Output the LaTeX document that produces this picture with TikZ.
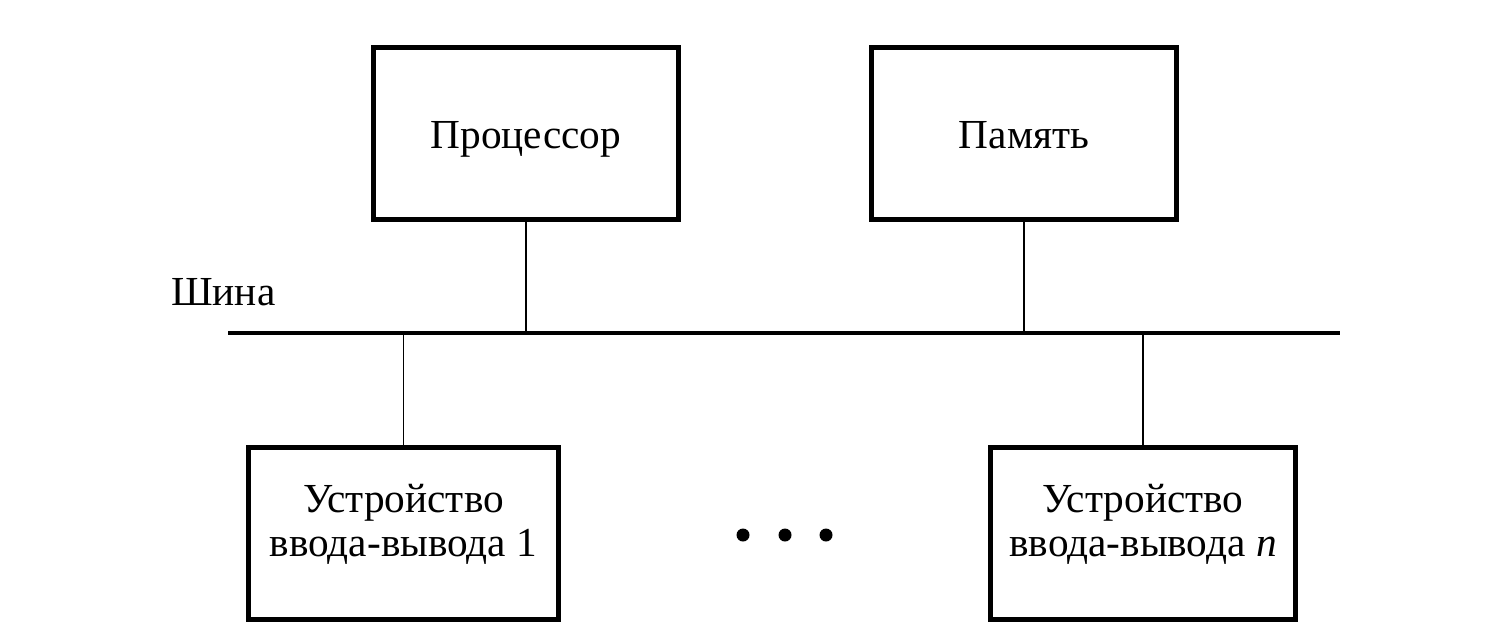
\documentclass[tikz,border=0pt]{standalone}
\usepackage{fontspec}
\setmainfont{Liberation Serif}
\newcommand{\blockfont}{\fontsize{23.5pt}{25pt}\selectfont}
\begin{document}
\begin{tikzpicture}[x=0.02cm,y=-0.02cm,
	unit/.style={draw, line width=2.8pt, minimum width=6.1cm, minimum height=3.45cm, align=center, font=\blockfont},
	oneline/.style={text height=21.6pt, text depth=4.6pt},
	twoline/.style={text depth=15pt},
	link/.style={line width=1.1pt},
	bus/.style={line width=2.8pt}]
	\useasboundingbox (0,0) rectangle (1503,640);
	\node[unit, oneline] (proc) at (526,133.5) {Процессор};
	\node[unit, oneline] (mem) at (1024,133.5) {Память};
	\node[unit, twoline, minimum width=6.2cm] (io1) at (403.5,533.5) {Устройство\\ввода-вывода 1};
	\node[unit, twoline] (ion) at (1143,533.5) {Устройство\\ввода-вывода \textit{n}};
	\coordinate (busL) at (228,333);
	\coordinate (busR) at (1340,333);
	\draw[bus] (busL) -- (busR);
	\node[anchor=base west, font=\blockfont] (businfo) at (165,305) {Шина};
	\draw[link] (proc.south) -- (proc.south |- busL);
	\draw[link] (mem.south) -- (mem.south |- busL);
	\draw[link] (io1.north) -- (io1.north |- busL);
	\draw[link] (ion.north) -- (ion.north |- busL);
	\foreach \x in {743,785,826}
	\fill (\x,535) circle[radius=0.13cm];
\end{tikzpicture}
\end{document}
